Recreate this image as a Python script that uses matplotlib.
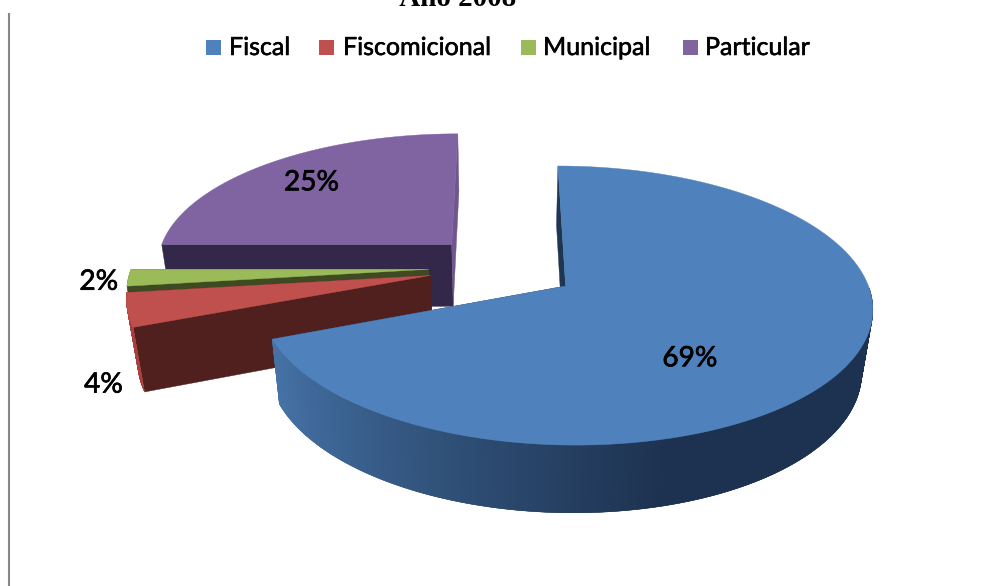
import numpy as np
import matplotlib
matplotlib.use("Agg")
import matplotlib.pyplot as plt
import matplotlib.patheffects as pe
from matplotlib.colors import to_rgb
from matplotlib.patches import Polygon, Rectangle

# ---- data ----
categories = ["Fiscal", "Fiscomicional", "Municipal", "Particular"]
percents = [69, 4, 2, 25]
labels = ["69%", "4%", "2%", "25%"]
title = "- Año 2008-"

top_colors = ["#4F81BD", "#C0504D", "#9BBB59", "#8064A2"]
start_face_colors = ["#1F3552", "#4F201D", "#3D4A22", "#33284A"]
end_face_colors = ["#1F3552", "#4F201D", "#3D4A22", "#6F578D"]
rim_colors = ["#1F3552", "#A8413E", "#87A34D", "#6F578D"]

# ---- view ----
X0, Y0, A, B, K, M, T = 503.0, 267.2, 297.0, 131.6, 0.137, 0.03, 64.5
EXPLODE = 0.25
label_radius = [0.614, 1.12, 1.10, 0.75]
label_turn = [19, 0, 0, 0]
label_depth = [0, 1.1, 0.05, 0]
rim_behind_faces = [False, False, True, False]


def project(u, v, z=0.0):
    d = 1 + K * np.asarray(v) + M * z
    return X0 + A * np.asarray(u) / d, Y0 + (-B * np.asarray(v) + T * z) / d


fig = plt.figure(figsize=(9.87, 5.86), dpi=100)
ax = fig.add_axes([0, 0, 1, 1])
ax.set_xlim(0, 987)
ax.set_ylim(586, 0)
ax.axis("off")

fractions = np.array(percents) / sum(percents)
ends = np.cumsum(fractions) * 2 * np.pi
starts = ends - fractions * 2 * np.pi


def poly(x, y, color, z):
    ax.add_patch(Polygon(np.column_stack([x, y]), closed=True, fc=color, ec=color, lw=0.3, zorder=z))


def blue_rim(theta):
    stops = np.radians([165, 200, 225, 250])
    cols = np.array([to_rgb(c) for c in ["#1D3250", "#2F4F76", "#3C6493", "#4875AA"]])
    return [np.interp(theta, stops, cols[:, k]) for k in range(3)]


# back to front: Particular, Municipal, Fiscomicional, Fiscal
for base, i in enumerate([3, 2, 1, 0]):
    z = 2 + base * 10
    mid = (starts[i] + ends[i]) / 2
    cu, cv = EXPLODE * np.sin(mid), EXPLODE * np.cos(mid)
    th = np.linspace(starts[i], ends[i], max(int(np.degrees(ends[i] - starts[i]) * 3), 12))
    u, v = cu + np.sin(th), cv + np.cos(th)
    xt, yt = project(u, v, 0)
    xb, yb = project(u, v, 1)

    # radial faces
    for a, col in ((starts[i], start_face_colors[i]), (ends[i], end_face_colors[i])):
        eu, ev = cu + np.sin(a), cv + np.cos(a)
        x0, y0 = project(np.array([cu, eu]), np.array([cv, ev]), 0)
        x1, y1 = project(np.array([eu, cu]), np.array([ev, cv]), 1)
        poly(np.r_[x0, x1], np.r_[y0, y1], col, z)

    # outer rim: only the part that faces the viewer, overlapped to avoid seams
    rim_z = z - 1 if rim_behind_faces[i] else z + 1
    for j in range(len(th) - 1):
        if np.cos(th[j]) > -0.01:
            continue
        k = min(j + 2, len(th) - 1)
        c = blue_rim(th[j]) if i == 0 else rim_colors[i]
        poly([xt[j], xt[k], xb[k], xb[j]], [yt[j], yt[k], yb[k], yb[j]], c, rim_z)

    # top face
    xc, yc = project(cu, cv, 0)
    poly(np.r_[xc, xt], np.r_[yc, yt], top_colors[i], z + 2)

    # percentage label
    r, ang = label_radius[i], mid + np.radians(label_turn[i])
    lx, ly = project(cu + r * np.sin(ang), cv + r * np.cos(ang), label_depth[i])
    ax.text(float(lx), float(ly), labels[i], ha="center", va="center", fontsize=20.2,
            family="Lato", color="black", zorder=60,
            path_effects=[pe.withStroke(linewidth=0.5, foreground="black")])

# legend
swatch_x = [206, 319, 521, 683]
text_x = [229, 343, 543, 705]
for name, col, sx, tx in zip(categories, top_colors, swatch_x, text_x):
    ax.add_patch(Rectangle((sx, 40), 15, 15, fc=col, ec="none", zorder=60))
    ax.text(tx, 47.5, name, ha="left", va="center", fontsize=18, family="Lato", color="black", zorder=60,
            path_effects=[pe.withStroke(linewidth=0.4, foreground="black")])

# clipped title and left rule from the page
ax.text(455, 6.5, title, ha="center", va="baseline", fontsize=20.9, fontweight="bold",
        family="Liberation Serif", color="black", zorder=60)
ax.plot([9, 9], [13, 586], color="#868686", lw=1.5, solid_capstyle="butt", zorder=60)

fig.savefig("out.png", dpi=100)
